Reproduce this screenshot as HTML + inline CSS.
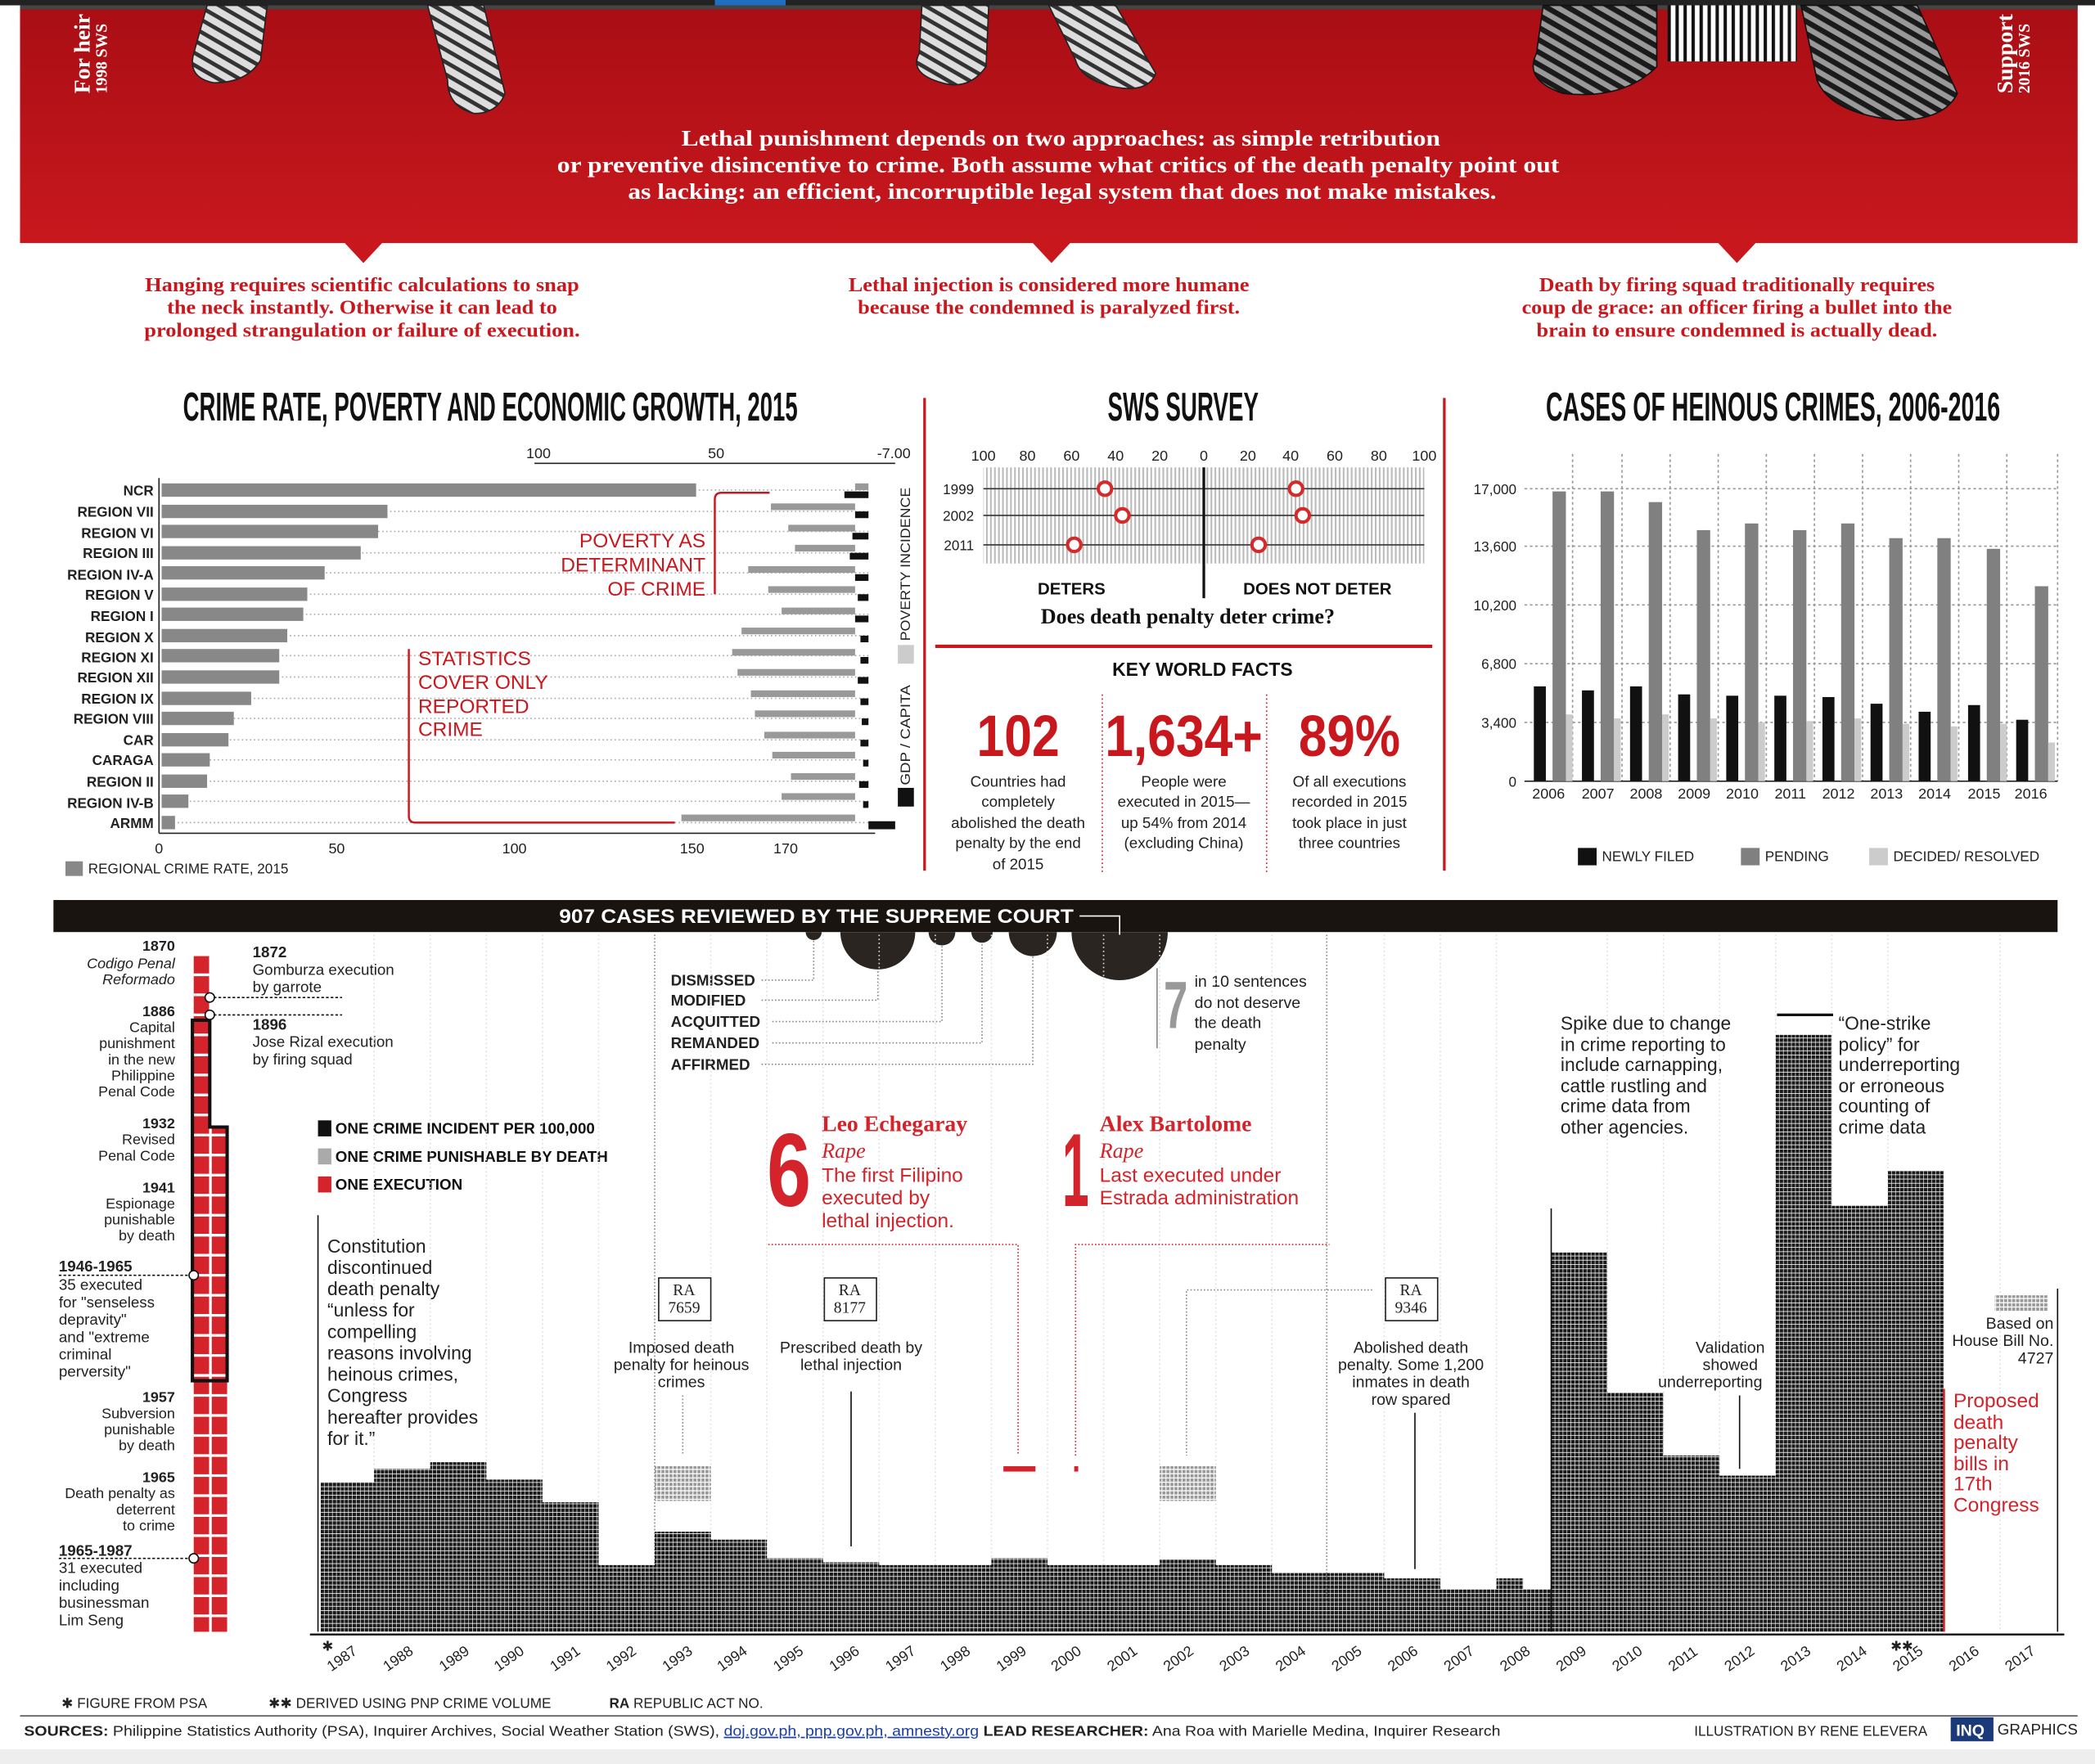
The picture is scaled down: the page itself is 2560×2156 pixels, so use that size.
<!DOCTYPE html>
<html><head><meta charset="utf-8">
<style>
html,body{margin:0;padding:0;background:#fff;}
svg{display:block;}
text{font-family:"Liberation Sans",sans-serif;}
text.serif,.serif text{font-family:"Liberation Serif",serif;}
text.narrow,.narrow text{font-family:"Liberation Sans Narrow","Liberation Sans",sans-serif;}
</style></head>
<body>
<svg width="2560" height="2156" viewBox="0 0 1568 1321" preserveAspectRatio="none" xmlns="http://www.w3.org/2000/svg">
<defs>
<linearGradient id="rg" x1="0" y1="0" x2="0" y2="1">
<stop offset="0" stop-color="#a80e14"/><stop offset="1" stop-color="#c8181e"/></linearGradient>
<pattern id="dots" width="3" height="3.2" patternUnits="userSpaceOnUse"><rect width="2.6" height="2.7" fill="#1a1a1a"/></pattern>
<pattern id="gdots" width="3" height="3.2" patternUnits="userSpaceOnUse"><rect width="2.3" height="2.4" fill="#999"/></pattern>
<pattern id="stripes" width="6" height="10" patternUnits="userSpaceOnUse"><rect width="6" height="10" fill="#fff"/><rect width="2.5" height="10" fill="#111"/></pattern>
<pattern id="hatch" width="3" height="10" patternUnits="userSpaceOnUse"><rect width="3" height="10" fill="#fff"/><rect width="1.3" height="10" fill="#bbb"/></pattern>
<pattern id="zebra" width="8" height="8" patternUnits="userSpaceOnUse" patternTransform="rotate(30)"><rect width="8" height="8" fill="#ddd"/><rect width="8" height="3" fill="#333"/></pattern>
<pattern id="zebraD" width="8" height="8" patternUnits="userSpaceOnUse" patternTransform="rotate(30)"><rect width="8" height="8" fill="#999"/><rect width="8" height="4" fill="#1a1a1a"/></pattern>
<clipPath id="below"><rect x="0" y="698" width="1568" height="100"/></clipPath>
</defs>

<!-- top band -->
<rect x="0" y="0" width="1568" height="4" fill="#222"/>
<rect x="535" y="0" width="53" height="4" fill="#1f6fc0"/>
<rect x="15" y="4" width="1540" height="178" fill="url(#rg)"/>
<rect x="15" y="4" width="1540" height="3" fill="#444"/>
<!-- feet -->
<path d="M155 4 L200 4 L195 45 Q185 62 160 62 Q140 58 145 40 Z" fill="url(#zebra)" stroke="#222"/>
<path d="M320 4 L362 4 L378 70 Q372 85 355 85 Q335 80 335 60 Z" fill="url(#zebra)" stroke="#222"/>
<path d="M690 4 L740 4 L738 50 Q725 68 705 62 Q680 55 688 40 Z" fill="url(#zebra)" stroke="#222"/>
<path d="M785 4 L835 4 L865 55 Q860 68 840 66 Q810 62 805 45 Z" fill="url(#zebra)" stroke="#222"/>
<path d="M1155 4 L1240 4 L1240 50 Q1215 75 1170 70 Q1140 60 1150 40 Z" fill="url(#zebraD)" stroke="#111"/>
<rect x="1248" y="4" width="97" height="42" fill="url(#stripes)"/>
<path d="M1348 4 L1435 4 L1465 70 Q1455 90 1420 90 Q1370 85 1360 60 Z" fill="url(#zebraD)" stroke="#111"/>
<text transform="translate(67,70) rotate(-90)" class="serif" font-size="17" font-weight="bold" fill="#fff">For heir</text>
<text transform="translate(80,70) rotate(-90)" class="serif" font-size="12" font-weight="bold" fill="#fff">1998 SWS</text>
<text transform="translate(1506,70) rotate(-90)" class="serif" font-size="17" font-weight="bold" fill="#fff">Support</text>
<text transform="translate(1519,70) rotate(-90)" class="serif" font-size="12" font-weight="bold" fill="#fff">2016 SWS</text>
<g class="serif" font-size="17" font-weight="bold" fill="#fff" text-anchor="middle">
<text x="794" y="109" textLength="568" lengthAdjust="spacingAndGlyphs">Lethal punishment depends on two approaches: as simple retribution</text>
<text x="792" y="129" textLength="750" lengthAdjust="spacingAndGlyphs">or preventive disincentive to crime. Both assume what critics of the death penalty point out</text>
<text x="795" y="149" textLength="650" lengthAdjust="spacingAndGlyphs">as lacking: an efficient, incorruptible legal system that does not make mistakes.</text>
</g>
<path d="M258 182 L286 182 L272 197 Z" fill="#c8181e"/>
<path d="M773 182 L801 182 L787 197 Z" fill="#c8181e"/>
<path d="M1286 182 L1314 182 L1300 197 Z" fill="#c8181e"/>
<g class="serif" font-size="15" font-weight="bold" fill="#c8181e" text-anchor="middle">
<text x="271" y="218" textLength="325" lengthAdjust="spacingAndGlyphs">Hanging requires scientific calculations to snap</text>
<text x="271" y="235" textLength="292" lengthAdjust="spacingAndGlyphs">the neck instantly. Otherwise it can lead to</text>
<text x="271" y="252" textLength="326" lengthAdjust="spacingAndGlyphs">prolonged strangulation or failure of execution.</text>
<text x="785" y="218" textLength="300" lengthAdjust="spacingAndGlyphs">Lethal injection is considered more humane</text>
<text x="785" y="235" textLength="286" lengthAdjust="spacingAndGlyphs">because the condemned is paralyzed first.</text>
<text x="1300" y="218" textLength="296" lengthAdjust="spacingAndGlyphs">Death by firing squad traditionally requires</text>
<text x="1300" y="235" textLength="322" lengthAdjust="spacingAndGlyphs">coup de grace: an officer firing a bullet into the</text>
<text x="1300" y="252" textLength="300" lengthAdjust="spacingAndGlyphs">brain to ensure condemned is actually dead.</text>
</g>

<!-- titles -->
<text x="137" y="315" class="narrow" font-size="30" font-weight="bold" fill="#111" textLength="460" lengthAdjust="spacingAndGlyphs">CRIME RATE, POVERTY AND ECONOMIC GROWTH, 2015</text>
<text x="829" y="315" class="narrow" font-size="30" font-weight="bold" fill="#111" textLength="113" lengthAdjust="spacingAndGlyphs">SWS SURVEY</text>
<text x="1157" y="315" class="narrow" font-size="30" font-weight="bold" fill="#111" textLength="340" lengthAdjust="spacingAndGlyphs">CASES OF HEINOUS CRIMES, 2006-2016</text>
<line x1="692" y1="298" x2="692" y2="652" stroke="#c8181e" stroke-width="2"/>
<line x1="1081" y1="298" x2="1081" y2="652" stroke="#c8181e" stroke-width="2"/>

<!-- left chart -->
<g font-size="11" fill="#222" text-anchor="middle">
<text x="403" y="343">100</text><text x="536" y="343">50</text><text x="669" y="343">-7.00</text>
</g>
<line x1="400" y1="347" x2="670" y2="347" stroke="#222" stroke-width="1"/>
<line x1="119" y1="358" x2="119" y2="624" stroke="#222"/>
<line x1="119" y1="624" x2="655" y2="624" stroke="#222"/>
<g stroke="#aaa" stroke-dasharray="1,2">
<line x1="121" y1="367" x2="650" y2="367"/><line x1="121" y1="383" x2="650" y2="383"/><line x1="121" y1="398" x2="650" y2="398"/><line x1="121" y1="414" x2="650" y2="414"/><line x1="121" y1="429" x2="650" y2="429"/><line x1="121" y1="445" x2="650" y2="445"/><line x1="121" y1="460" x2="650" y2="460"/><line x1="121" y1="476" x2="650" y2="476"/><line x1="121" y1="491" x2="650" y2="491"/><line x1="121" y1="507" x2="650" y2="507"/><line x1="121" y1="523" x2="650" y2="523"/><line x1="121" y1="538" x2="650" y2="538"/><line x1="121" y1="554" x2="650" y2="554"/><line x1="121" y1="569" x2="650" y2="569"/><line x1="121" y1="585" x2="650" y2="585"/><line x1="121" y1="600" x2="650" y2="600"/><line x1="121" y1="616" x2="650" y2="616"/>
</g>
<g fill="#888">
<rect x="121" y="362" width="400" height="10"/><rect x="121" y="378" width="169" height="10"/><rect x="121" y="393" width="162" height="10"/><rect x="121" y="409" width="149" height="10"/><rect x="121" y="424" width="122" height="10"/><rect x="121" y="440" width="109" height="10"/><rect x="121" y="455" width="106" height="10"/><rect x="121" y="471" width="94" height="10"/><rect x="121" y="486" width="88" height="10"/><rect x="121" y="502" width="88" height="10"/><rect x="121" y="518" width="67" height="10"/><rect x="121" y="533" width="54" height="10"/><rect x="121" y="549" width="50" height="10"/><rect x="121" y="564" width="36" height="10"/><rect x="121" y="580" width="34" height="10"/><rect x="121" y="595" width="20" height="10"/><rect x="121" y="611" width="10" height="10"/>
</g>
<g fill="#999">
<rect x="640" y="362" width="10" height="5"/><rect x="577" y="377" width="63" height="5"/><rect x="590" y="393" width="50" height="5"/><rect x="595" y="408" width="45" height="5"/><rect x="560" y="424" width="80" height="5"/><rect x="575" y="439" width="65" height="5"/><rect x="585" y="455" width="55" height="5"/><rect x="555" y="470" width="85" height="5"/><rect x="548" y="486" width="92" height="5"/><rect x="552" y="501" width="88" height="5"/><rect x="562" y="517" width="78" height="5"/><rect x="565" y="532" width="75" height="5"/><rect x="572" y="548" width="68" height="5"/><rect x="578" y="563" width="62" height="5"/><rect x="592" y="579" width="48" height="5"/><rect x="585" y="594" width="55" height="5"/><rect x="510" y="610" width="130" height="5"/>
</g>
<g fill="#111">
<rect x="632" y="368" width="18" height="5"/><rect x="640" y="383" width="10" height="5"/><rect x="638" y="399" width="12" height="5"/><rect x="636" y="414" width="14" height="5"/><rect x="640" y="430" width="10" height="5"/><rect x="642" y="445" width="8" height="5"/><rect x="640" y="461" width="10" height="5"/><rect x="644" y="476" width="6" height="5"/><rect x="644" y="492" width="6" height="5"/><rect x="642" y="507" width="8" height="5"/><rect x="644" y="523" width="6" height="5"/><rect x="645" y="538" width="5" height="5"/><rect x="644" y="554" width="6" height="5"/><rect x="646" y="569" width="4" height="5"/><rect x="643" y="585" width="7" height="5"/><rect x="646" y="600" width="4" height="5"/><rect x="650" y="615" width="20" height="6"/>
</g>
<rect x="672" y="483" width="12" height="14" fill="#ccc"/>
<rect x="672" y="590" width="12" height="14" fill="#111"/>
<text transform="translate(681,480) rotate(-90)" font-size="10" fill="#222" textLength="115" lengthAdjust="spacingAndGlyphs">POVERTY INCIDENCE</text>
<text transform="translate(681,588) rotate(-90)" font-size="10" fill="#222" textLength="75" lengthAdjust="spacingAndGlyphs">GDP / CAPITA</text>
<g font-size="10.5" font-weight="bold" fill="#222" text-anchor="end">
<text x="115" y="371">NCR</text><text x="115" y="387">REGION VII</text><text x="115" y="403">REGION VI</text><text x="115" y="418">REGION III</text><text x="115" y="434">REGION IV-A</text><text x="115" y="449">REGION V</text><text x="115" y="465">REGION I</text><text x="115" y="481">REGION X</text><text x="115" y="496">REGION XI</text><text x="115" y="511">REGION XII</text><text x="115" y="527">REGION IX</text><text x="115" y="542">REGION VIII</text><text x="115" y="558">CAR</text><text x="115" y="573">CARAGA</text><text x="115" y="589">REGION II</text><text x="115" y="605">REGION IV-B</text><text x="115" y="620">ARMM</text>
</g>
<g font-size="11" fill="#222" text-anchor="middle">
<text x="119" y="639">0</text><text x="252" y="639">50</text><text x="385" y="639">100</text><text x="518" y="639">150</text><text x="588" y="639">170</text>
</g>
<rect x="49" y="645" width="13" height="11" fill="#888"/>
<text x="66" y="654" font-size="10.5" fill="#222">REGIONAL CRIME RATE, 2015</text>
<path d="M576 369 L540 369 Q535 369 535 374 L535 445" fill="none" stroke="#c8181e" stroke-width="1.5"/>
<path d="M306 486 L306 611 Q306 616 311 616 L505 616" fill="none" stroke="#c8181e" stroke-width="1.5"/>
<g font-size="15" fill="#c8181e" text-anchor="end">
<text x="528" y="410">POVERTY AS</text><text x="528" y="428">DETERMINANT</text><text x="528" y="446">OF CRIME</text>
</g>
<g font-size="15" fill="#c8181e">
<text x="313" y="498">STATISTICS</text><text x="313" y="516">COVER ONLY</text><text x="313" y="534">REPORTED</text><text x="313" y="551">CRIME</text>
</g>

<!-- SWS -->
<g font-size="11" fill="#222" text-anchor="middle">
<text x="736" y="345">100</text><text x="769" y="345">80</text><text x="802" y="345">60</text><text x="835" y="345">40</text><text x="868" y="345">20</text><text x="901" y="345">0</text><text x="934" y="345">20</text><text x="966" y="345">40</text><text x="999" y="345">60</text><text x="1032" y="345">80</text><text x="1066" y="345">100</text>
</g>
<rect x="736" y="350" width="330" height="72" fill="url(#hatch)"/>
<g stroke="#333" stroke-width="1"><line x1="736" y1="366" x2="1066" y2="366"/><line x1="736" y1="386" x2="1066" y2="386"/><line x1="736" y1="408" x2="1066" y2="408"/></g>
<line x1="901" y1="350" x2="901" y2="448" stroke="#111" stroke-width="2"/>
<g font-size="10.5" fill="#222" text-anchor="end"><text x="729" y="370">1999</text><text x="729" y="390">2002</text><text x="729" y="412">2011</text></g>
<g fill="#fff" stroke="#d42a2a" stroke-width="2.5">
<circle cx="827" cy="366" r="5"/><circle cx="970" cy="366" r="5"/><circle cx="840" cy="386" r="5"/><circle cx="975" cy="386" r="5"/><circle cx="804" cy="408" r="5"/><circle cx="942" cy="408" r="5"/>
</g>
<g font-size="12.5" font-weight="bold" fill="#111" text-anchor="middle"><text x="802" y="445">DETERS</text><text x="986" y="445">DOES NOT DETER</text></g>
<text x="889" y="467" class="serif" font-size="16" font-weight="bold" fill="#111" text-anchor="middle">Does death penalty deter crime?</text>
<line x1="700" y1="484" x2="1072" y2="484" stroke="#c8181e" stroke-width="2.5"/>
<text x="900" y="506" font-size="14" font-weight="bold" fill="#111" text-anchor="middle">KEY WORLD FACTS</text>
<g class="narrow" font-size="44" font-weight="bold" fill="#c8181e" text-anchor="middle">
<text x="762" y="566" textLength="62" lengthAdjust="spacingAndGlyphs">102</text>
<text x="886" y="566" textLength="118" lengthAdjust="spacingAndGlyphs">1,634+</text>
<text x="1010" y="566" textLength="76" lengthAdjust="spacingAndGlyphs">89%</text>
</g>
<g stroke="#c8181e" stroke-dasharray="1,2"><line x1="825" y1="520" x2="825" y2="655"/><line x1="948" y1="520" x2="948" y2="655"/></g>
<g font-size="11.5" fill="#222" text-anchor="middle">
<text x="762" y="589">Countries had</text><text x="762" y="604">completely</text><text x="762" y="620">abolished the death</text><text x="762" y="635">penalty by the end</text><text x="762" y="651">of 2015</text>
<text x="886" y="589">People were</text><text x="886" y="604">executed in 2015—</text><text x="886" y="620">up 54% from 2014</text><text x="886" y="635">(excluding China)</text>
<text x="1010" y="589">Of all executions</text><text x="1010" y="604">recorded in 2015</text><text x="1010" y="620">took place in just</text><text x="1010" y="635">three countries</text>
</g>

<!-- heinous crimes -->
<g stroke="#999" stroke-dasharray="2,2"><line x1="1141" y1="366" x2="1540" y2="366"/><line x1="1141" y1="409" x2="1540" y2="409"/><line x1="1141" y1="453" x2="1540" y2="453"/><line x1="1141" y1="497" x2="1540" y2="497"/><line x1="1141" y1="541" x2="1540" y2="541"/>
<line x1="1177" y1="340" x2="1177" y2="585"/><line x1="1214" y1="340" x2="1214" y2="585"/><line x1="1250" y1="340" x2="1250" y2="585"/><line x1="1286" y1="340" x2="1286" y2="585"/><line x1="1322" y1="340" x2="1322" y2="585"/><line x1="1358" y1="340" x2="1358" y2="585"/><line x1="1394" y1="340" x2="1394" y2="585"/><line x1="1430" y1="340" x2="1430" y2="585"/><line x1="1466" y1="340" x2="1466" y2="585"/><line x1="1502" y1="340" x2="1502" y2="585"/><line x1="1540" y1="340" x2="1540" y2="585"/></g>
<line x1="1141" y1="585" x2="1540" y2="585" stroke="#222"/>
<g font-size="10.5" fill="#222" text-anchor="end"><text x="1135" y="370">17,000</text><text x="1135" y="413">13,600</text><text x="1135" y="457">10,200</text><text x="1135" y="501">6,800</text><text x="1135" y="545">3,400</text><text x="1135" y="589">0</text></g>
<g fill="#111">
<rect x="1148" y="514" width="9" height="71"/><rect x="1184" y="517" width="9" height="68"/><rect x="1220" y="514" width="9" height="71"/><rect x="1256" y="520" width="9" height="65"/><rect x="1292" y="521" width="9" height="64"/><rect x="1328" y="521" width="9" height="64"/><rect x="1364" y="522" width="9" height="63"/><rect x="1400" y="527" width="9" height="58"/><rect x="1436" y="533" width="9" height="52"/><rect x="1473" y="528" width="9" height="57"/><rect x="1509" y="539" width="9" height="46"/>
</g>
<g fill="#808080">
<rect x="1162" y="368" width="10" height="217"/><rect x="1198" y="368" width="10" height="217"/><rect x="1234" y="376" width="10" height="209"/><rect x="1270" y="397" width="10" height="188"/><rect x="1306" y="392" width="10" height="193"/><rect x="1342" y="397" width="10" height="188"/><rect x="1378" y="392" width="10" height="193"/><rect x="1414" y="403" width="10" height="182"/><rect x="1450" y="403" width="10" height="182"/><rect x="1487" y="411" width="10" height="174"/><rect x="1523" y="439" width="10" height="146"/>
</g>
<g fill="#ccc">
<rect x="1172" y="535" width="5" height="50"/><rect x="1208" y="538" width="5" height="47"/><rect x="1244" y="535" width="5" height="50"/><rect x="1280" y="538" width="5" height="47"/><rect x="1316" y="541" width="5" height="44"/><rect x="1352" y="540" width="5" height="45"/><rect x="1388" y="538" width="5" height="47"/><rect x="1424" y="542" width="5" height="43"/><rect x="1460" y="544" width="5" height="41"/><rect x="1497" y="542" width="5" height="43"/><rect x="1533" y="556" width="5" height="29"/>
</g>
<g font-size="11" fill="#222" text-anchor="middle"><text x="1159" y="598">2006</text><text x="1196" y="598">2007</text><text x="1232" y="598">2008</text><text x="1268" y="598">2009</text><text x="1304" y="598">2010</text><text x="1340" y="598">2011</text><text x="1376" y="598">2012</text><text x="1412" y="598">2013</text><text x="1448" y="598">2014</text><text x="1485" y="598">2015</text><text x="1520" y="598">2016</text></g>
<rect x="1181" y="635" width="14" height="13" fill="#111"/><text x="1199" y="645" font-size="10.5" fill="#222">NEWLY FILED</text>
<rect x="1303" y="635" width="14" height="13" fill="#808080"/><text x="1321" y="645" font-size="10.5" fill="#222">PENDING</text>
<rect x="1399" y="635" width="14" height="13" fill="#ccc"/><text x="1417" y="645" font-size="10.5" fill="#222">DECIDED/ RESOLVED</text>

<!-- bottom section -->
<g fill="#2a2520" clip-path="url(#below)">
<circle cx="609" cy="698" r="6"/><circle cx="657" cy="698" r="28"/><circle cx="705" cy="698" r="10"/><circle cx="735" cy="698" r="8"/><circle cx="773" cy="698" r="18"/><circle cx="838" cy="698" r="36"/>
</g>
<rect x="40" y="674" width="1500" height="24" fill="#1a1410"/>
<text x="611" y="691" class="narrow" font-size="15" font-weight="bold" fill="#fff" text-anchor="middle" textLength="385" lengthAdjust="spacingAndGlyphs">907 CASES REVIEWED BY THE SUPREME COURT</text>
<path d="M808 686 L838 686 L838 700" fill="none" stroke="#fff" stroke-width="1"/>
<g stroke="#888" stroke-dasharray="1,1.5" fill="none">
<path d="M570 734 L609 734 L609 704"/><path d="M570 749 L657 749 L657 726"/><path d="M578 765 L705 765 L705 708"/><path d="M578 781 L735 781 L735 706"/><path d="M570 797 L773 797 L773 716"/>
<line x1="490" y1="700" x2="490" y2="1200"/><line x1="993" y1="700" x2="993" y2="1200"/>
</g>
<g font-size="11.5" font-weight="bold" fill="#222"><text x="502" y="738">DISMISSED</text><text x="502" y="753">MODIFIED</text><text x="502" y="769">ACQUITTED</text><text x="502" y="785">REMANDED</text><text x="502" y="801">AFFIRMED</text></g>
<line x1="866" y1="725" x2="866" y2="785" stroke="#888"/>
<text x="871" y="770" class="narrow" font-size="50" font-weight="bold" fill="#999" textLength="18" lengthAdjust="spacingAndGlyphs">7</text>
<g font-size="12" fill="#222"><text x="894" y="739">in 10 sentences</text><text x="894" y="755">do not deserve</text><text x="894" y="770">the death</text><text x="894" y="786">penalty</text></g>

<!-- left timeline -->
<rect x="145" y="716" width="12" height="506" fill="#d4232a"/>
<rect x="158" y="844" width="12" height="378" fill="#d4232a"/>
<g stroke="#fff" stroke-width="2">
<path d="M145 730 H170 M145 745 H170 M145 760 H170 M145 775 H170 M145 790 H170 M145 805 H170 M145 820 H170 M145 835 H170 M145 850 H170 M145 865 H170 M145 880 H170 M145 895 H170 M145 910 H170 M145 925 H170 M145 940 H170 M145 955 H170 M145 970 H170 M145 985 H170 M145 1000 H170 M145 1015 H170 M145 1030 H170 M145 1045 H170 M145 1060 H170 M145 1075 H170 M145 1090 H170 M145 1105 H170 M145 1120 H170 M145 1135 H170 M145 1150 H170 M145 1165 H170 M145 1180 H170 M145 1195 H170 M145 1210 H170"/>
<line x1="157.5" y1="716" x2="157.5" y2="1222"/>
</g>
<path d="M144 764 L157 764 L157 844 L170 844 L170 1034 L144 1034 Z" fill="none" stroke="#111" stroke-width="2.5"/>
<g fill="#fff" stroke="#111"><circle cx="157" cy="747" r="3.5"/><circle cx="157" cy="760" r="3.5"/><circle cx="145" cy="955" r="3.5"/><circle cx="145" cy="1167" r="3.5"/></g>
<g stroke="#111" stroke-dasharray="2,1.5"><line x1="160" y1="747" x2="256" y2="747"/><line x1="160" y1="760" x2="256" y2="760"/><line x1="44" y1="955" x2="142" y2="955"/><line x1="44" y1="1167" x2="142" y2="1167"/></g>
<g font-size="11" fill="#222" text-anchor="end">
<text x="131" y="712" font-weight="bold">1870</text><text x="131" y="725" font-style="italic">Codigo Penal</text><text x="131" y="737" font-style="italic">Reformado</text>
<text x="131" y="761" font-weight="bold">1886</text><text x="131" y="773">Capital</text><text x="131" y="785">punishment</text><text x="131" y="797">in the new</text><text x="131" y="809">Philippine</text><text x="131" y="821">Penal Code</text>
<text x="131" y="845" font-weight="bold">1932</text><text x="131" y="857">Revised</text><text x="131" y="869">Penal Code</text>
<text x="131" y="893" font-weight="bold">1941</text><text x="131" y="905">Espionage</text><text x="131" y="917">punishable</text><text x="131" y="929">by death</text>
<text x="131" y="1050" font-weight="bold">1957</text><text x="131" y="1062">Subversion</text><text x="131" y="1074">punishable</text><text x="131" y="1086">by death</text>
<text x="131" y="1110" font-weight="bold">1965</text><text x="131" y="1122">Death penalty as</text><text x="131" y="1134">deterrent</text><text x="131" y="1146">to crime</text>
</g>
<g font-size="11.5" fill="#222">
<text x="44" y="952" font-weight="bold">1946-1965</text><text x="44" y="966">35 executed</text><text x="44" y="979">for "senseless</text><text x="44" y="992">depravity"</text><text x="44" y="1005">and "extreme</text><text x="44" y="1018">criminal</text><text x="44" y="1031">perversity"</text>
<text x="44" y="1165" font-weight="bold">1965-1987</text><text x="44" y="1178">31 executed</text><text x="44" y="1191">including</text><text x="44" y="1204">businessman</text><text x="44" y="1217">Lim Seng</text>
<text x="189" y="717" font-weight="bold">1872</text><text x="189" y="730">Gomburza execution</text><text x="189" y="743">by garrote</text>
<text x="189" y="771" font-weight="bold">1896</text><text x="189" y="784">Jose Rizal execution</text><text x="189" y="797">by firing squad</text>
</g>
<rect x="238" y="839" width="10" height="12" fill="#111"/><text x="251" y="849" font-size="11.5" font-weight="bold" fill="#111">ONE CRIME INCIDENT PER 100,000</text>
<rect x="238" y="860" width="10" height="12" fill="#aaa"/><text x="251" y="870" font-size="11.5" font-weight="bold" fill="#111">ONE CRIME PUNISHABLE BY DEATH</text>
<rect x="238" y="881" width="10" height="12" fill="#d4232a"/><text x="251" y="891" font-size="11.5" font-weight="bold" fill="#111">ONE EXECUTION</text>

<!-- grid lines main chart -->
<g stroke="#ddd" stroke-dasharray="1,2">
<line x1="280" y1="700" x2="280" y2="1222"/><line x1="322" y1="700" x2="322" y2="1222"/><line x1="364" y1="700" x2="364" y2="1222"/><line x1="406" y1="700" x2="406" y2="1222"/><line x1="448" y1="700" x2="448" y2="1222"/><line x1="532" y1="700" x2="532" y2="1222"/><line x1="574" y1="700" x2="574" y2="1222"/><line x1="616" y1="700" x2="616" y2="1222"/><line x1="658" y1="700" x2="658" y2="1222"/><line x1="700" y1="700" x2="700" y2="1222"/><line x1="742" y1="700" x2="742" y2="1222"/><line x1="784" y1="700" x2="784" y2="1222"/><line x1="826" y1="700" x2="826" y2="1222"/><line x1="868" y1="700" x2="868" y2="1222"/><line x1="910" y1="700" x2="910" y2="1222"/><line x1="952" y1="700" x2="952" y2="1222"/><line x1="1036" y1="700" x2="1036" y2="1222"/><line x1="1078" y1="700" x2="1078" y2="1222"/><line x1="1120" y1="700" x2="1120" y2="1222"/><line x1="1203" y1="700" x2="1203" y2="1222"/><line x1="1245" y1="700" x2="1245" y2="1222"/><line x1="1287" y1="700" x2="1287" y2="1222"/><line x1="1329" y1="700" x2="1329" y2="1222"/><line x1="1371" y1="700" x2="1371" y2="1222"/><line x1="1413" y1="700" x2="1413" y2="1222"/><line x1="1497" y1="700" x2="1497" y2="1222"/>
</g>
<!-- bars -->
<path fill="url(#dots)" d="M240 1222 V1110 H280 V1100 H322 V1095 H364 V1108 H406 V1125 H448 V1172 H490 V1147 H532 V1153 H574 V1167 H616 V1170 H658 V1172 H742 V1167 H784 V1172 H868 V1168 H910 V1172 H952 V1178 H1036 V1182 H1078 V1190 H1120 V1182 H1140 V1190 H1161 V938 H1203 V1043 H1245 V1090 H1287 V1105 H1329 V775 H1371 V903 H1413 V877 H1455 V1222 Z"/>
<rect x="490" y="1098" width="42" height="26" fill="url(#gdots)"/>
<rect x="868" y="1098" width="42" height="26" fill="url(#gdots)"/>
<rect x="1493" y="970" width="40" height="12" fill="url(#gdots)"/>
<rect x="751" y="1098" width="24" height="4" fill="#d4232a"/>
<rect x="804" y="1098" width="3" height="4" fill="#d4232a"/>
<line x1="1330" y1="760" x2="1372" y2="760" stroke="#111" stroke-width="2"/>
<line x1="238" y1="910" x2="238" y2="1222" stroke="#111"/>
<line x1="1161" y1="905" x2="1161" y2="1222" stroke="#111"/>
<line x1="1540" y1="965" x2="1540" y2="1222" stroke="#111"/>
<line x1="1455" y1="1040" x2="1455" y2="1222" stroke="#d4232a" stroke-width="1.5"/>
<line x1="232" y1="1224" x2="1545" y2="1224" stroke="#111" stroke-width="1.5"/>
<g stroke="#d4232a" stroke-dasharray="1,1.5" fill="none"><path d="M575 932 L762 932 L762 1090"/><path d="M805 1090 L805 932 L995 932"/></g>
<g stroke="#888" stroke-dasharray="1,1.5" fill="none"><path d="M1027 966 L888 966 L888 1090"/><line x1="511" y1="1045" x2="511" y2="1090"/></g>
<g stroke="#111"><line x1="637" y1="1042" x2="637" y2="1158"/><line x1="1059" y1="1058" x2="1059" y2="1175"/><line x1="1302" y1="1045" x2="1302" y2="1100"/></g>

<!-- annotations -->
<g font-size="14" fill="#222">
<text x="245" y="938">Constitution</text><text x="245" y="954">discontinued</text><text x="245" y="970">death penalty</text><text x="245" y="986">“unless for</text><text x="245" y="1002">compelling</text><text x="245" y="1018">reasons involving</text><text x="245" y="1034">heinous crimes,</text><text x="245" y="1050">Congress</text><text x="245" y="1066">hereafter provides</text><text x="245" y="1082">for it.”</text>
<text x="1168" y="771">Spike due to change</text><text x="1168" y="787">in crime reporting to</text><text x="1168" y="802">include carnapping,</text><text x="1168" y="818">cattle rustling and</text><text x="1168" y="833">crime data from</text><text x="1168" y="849">other agencies.</text>
<text x="1376" y="771">“One-strike</text><text x="1376" y="787">policy” for</text><text x="1376" y="802">underreporting</text><text x="1376" y="818">or erroneous</text><text x="1376" y="833">counting of</text><text x="1376" y="849">crime data</text>
</g>
<g fill="#d4232a">
<text x="574" y="903" class="narrow" font-size="78" font-weight="bold" textLength="33" lengthAdjust="spacingAndGlyphs">6</text>
<text x="795" y="903" class="narrow" font-size="78" font-weight="bold" textLength="20" lengthAdjust="spacingAndGlyphs">1</text>
<g class="serif" font-size="17" font-weight="bold"><text x="615" y="847">Leo Echegaray</text><text x="823" y="847">Alex Bartolome</text></g>
<g class="serif" font-size="16" font-style="italic"><text x="615" y="867">Rape</text><text x="823" y="867">Rape</text></g>
<g font-size="15"><text x="615" y="885">The first Filipino</text><text x="615" y="902">executed by</text><text x="615" y="919">lethal injection.</text><text x="823" y="885">Last executed under</text><text x="823" y="902">Estrada administration</text>
<text x="1462" y="1054">Proposed</text><text x="1462" y="1070">death</text><text x="1462" y="1085">penalty</text><text x="1462" y="1101">bills in</text><text x="1462" y="1116">17th</text><text x="1462" y="1132">Congress</text></g>
</g>
<g fill="#fff" stroke="#222"><rect x="493" y="957" width="39" height="32"/><rect x="617" y="957" width="39" height="32"/><rect x="1037" y="957" width="39" height="32"/></g>
<g class="serif" font-size="12" fill="#222" text-anchor="middle">
<text x="512" y="970">RA</text><text x="512" y="983">7659</text><text x="636" y="970">RA</text><text x="636" y="983">8177</text><text x="1056" y="970">RA</text><text x="1056" y="983">9346</text>
</g>
<g font-size="12" fill="#222" text-anchor="middle">
<text x="510" y="1013">Imposed death</text><text x="510" y="1026">penalty for heinous</text><text x="510" y="1039">crimes</text>
<text x="637" y="1013">Prescribed death by</text><text x="637" y="1026">lethal injection</text>
<text x="1056" y="1013">Abolished death</text><text x="1056" y="1026">penalty. Some 1,200</text><text x="1056" y="1039">inmates in death</text><text x="1056" y="1052">row spared</text>
<text x="1295" y="1013">Validation</text><text x="1295" y="1026">showed</text><text x="1280" y="1039">underreporting</text>
</g>
<g font-size="12" fill="#222" text-anchor="end"><text x="1537" y="995">Based on</text><text x="1537" y="1008">House Bill No.</text><text x="1537" y="1021">4727</text></g>

<!-- years -->
<g font-size="11" fill="#222">
<text transform="translate(248,1252) rotate(-35)">1987</text><text transform="translate(290,1252) rotate(-35)">1988</text><text transform="translate(332,1252) rotate(-35)">1989</text><text transform="translate(373,1252) rotate(-35)">1990</text><text transform="translate(415,1252) rotate(-35)">1991</text><text transform="translate(457,1252) rotate(-35)">1992</text><text transform="translate(499,1252) rotate(-35)">1993</text><text transform="translate(540,1252) rotate(-35)">1994</text><text transform="translate(582,1252) rotate(-35)">1995</text><text transform="translate(624,1252) rotate(-35)">1996</text><text transform="translate(666,1252) rotate(-35)">1997</text><text transform="translate(707,1252) rotate(-35)">1998</text><text transform="translate(749,1252) rotate(-35)">1999</text><text transform="translate(790,1252) rotate(-35)">2000</text><text transform="translate(832,1252) rotate(-35)">2001</text><text transform="translate(874,1252) rotate(-35)">2002</text><text transform="translate(916,1252) rotate(-35)">2003</text><text transform="translate(958,1252) rotate(-35)">2004</text><text transform="translate(1000,1252) rotate(-35)">2005</text><text transform="translate(1042,1252) rotate(-35)">2006</text><text transform="translate(1084,1252) rotate(-35)">2007</text><text transform="translate(1126,1252) rotate(-35)">2008</text><text transform="translate(1168,1252) rotate(-35)">2009</text><text transform="translate(1210,1252) rotate(-35)">2010</text><text transform="translate(1252,1252) rotate(-35)">2011</text><text transform="translate(1294,1252) rotate(-35)">2012</text><text transform="translate(1336,1252) rotate(-35)">2013</text><text transform="translate(1378,1252) rotate(-35)">2014</text><text transform="translate(1420,1252) rotate(-35)">2015</text><text transform="translate(1462,1252) rotate(-35)">2016</text><text transform="translate(1504,1252) rotate(-35)">2017</text>
</g>
<text x="241" y="1236" font-size="10" fill="#222">✱</text><text x="1415" y="1236" font-size="10" fill="#222">✱✱</text>

<!-- footer -->
<g font-size="10.5" fill="#222">
<text x="46" y="1279">✱  FIGURE FROM PSA</text>
<text x="201" y="1279">✱✱  DERIVED USING PNP CRIME VOLUME</text>
<text x="456" y="1279"><tspan font-weight="bold">RA</tspan> REPUBLIC ACT NO.</text>
</g>
<line x1="15" y1="1285" x2="1555" y2="1285" stroke="#555"/>
<text x="18" y="1300" font-size="10.5" fill="#222" textLength="1105" lengthAdjust="spacingAndGlyphs"><tspan font-weight="bold">SOURCES:</tspan> Philippine Statistics Authority (PSA), Inquirer Archives, Social Weather Station (SWS), <tspan fill="#1a3fa0" text-decoration="underline">doj.gov.ph, pnp.gov.ph, amnesty.org</tspan>  <tspan font-weight="bold">LEAD RESEARCHER:</tspan> Ana Roa with Marielle Medina, Inquirer Research</text>
<text x="1268" y="1300" font-size="10.5" fill="#222">ILLUSTRATION BY RENE ELEVERA</text>
<rect x="1460" y="1286" width="32" height="18" fill="#1a3a7a"/>
<text x="1464" y="1300" font-size="12" font-weight="bold" fill="#fff">INQ</text>
<text x="1495" y="1299" font-size="11.5" fill="#222">GRAPHICS</text>
<rect x="0" y="1310" width="1568" height="11" fill="#eee"/>
</svg>
</body></html>
